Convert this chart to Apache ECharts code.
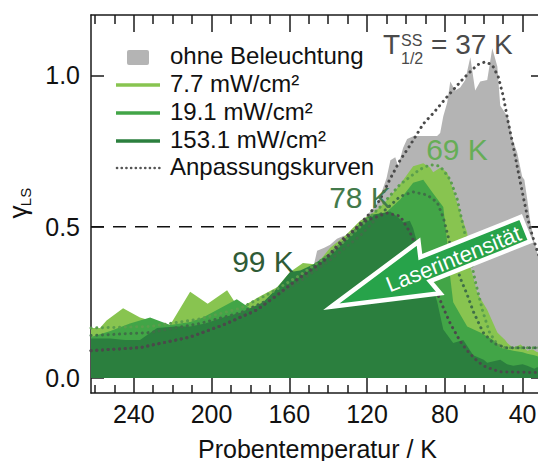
<!DOCTYPE html>
<html><head><meta charset="utf-8">
<script src="https://cdn.jsdelivr.net/npm/echarts@6/dist/echarts.min.js"></script>
<style>html,body{margin:0;padding:0;background:#fff}#c{width:538px;height:461px}</style>
</head><body><div id="c"></div>
<script>
// ---- data (temperature in K, gamma_LS) ----
const xMajorTicks = [240, 200, 160, 120, 80, 40];
const xMinorTicks = [260, 250, 230, 220, 210, 190, 180, 170, 150, 140, 130, 110, 100, 90, 70, 60, 50, 30];
const yTicks = [0, 0.5, 1.0];
const seriesNames = ['ohne Beleuchtung', '7.7 mW/cm²', '19.1 mW/cm²', '153.1 mW/cm²', 'Anpassungskurven'];
const halfTempLabels = ['69 K', '78 K', '99 K'];
const darkTitle = '37 K';

const greyData = [[262,0.11],[245,0.12],[230,0.13],[215,0.14],[200,0.16],[185,0.19],[172,0.23],[160,0.30],[152,0.34],
  [147.5,0.37],[145.7,0.42],[142,0.43],[139,0.44],[135.5,0.46],[132,0.47],[128.5,0.47],[125,0.50],[122,0.52],
  [118.4,0.55],[115.5,0.57],[113.3,0.60],[110,0.66],[108,0.72],[105.5,0.73],[104,0.70],[101.5,0.76],[99.4,0.79],
  [96,0.80],[92,0.80],[87.5,0.80],[84,0.80],[82.4,0.81],[80.8,0.865],[78.8,0.91],[77.2,0.98],[74.7,0.95],[72.1,0.96],
  [69.5,0.985],[66.9,1.06],[64.4,0.95],[61.8,0.98],[58.2,0.985],[55.6,1.09],[53,1.03],[51.5,0.90],[49.9,0.885],
  [47.4,0.86],[45.3,0.79],[42.8,0.745],[40.2,0.665],[39.1,0.655],[37.6,0.59],[36.1,0.52],[34,0.45],[31.9,0.40],[29,0.36]];
const lowData = [[262,0.165],[257.4,0.165],[254,0.19],[245.5,0.23],[236.8,0.20],[229,0.185],[221.3,0.175],[211,0.285],
  [202,0.245],[192,0.29],[188,0.25],[183,0.24],[175,0.27],[166.3,0.30],[159.6,0.35],[153,0.38],[146,0.375],[139,0.43],
  [131.3,0.47],[123.6,0.52],[117,0.545],[113.3,0.565],[108,0.60],[103,0.64],[96.3,0.70],[91.1,0.71],[87.5,0.695],
  [86,0.68],[82.4,0.695],[78.8,0.68],[75.7,0.62],[72.1,0.545],[68.5,0.48],[66.9,0.37],[63.3,0.28],[58.2,0.225],
  [53,0.15],[49,0.125],[47.9,0.115],[44.8,0.10],[41,0.11],[37.6,0.09],[35,0.095],[32.5,0.085],[29,0.09]];
const midData = [[262,0.135],[252,0.155],[242,0.18],[231.6,0.20],[221.3,0.175],[211,0.185],[204.4,0.20],[195.6,0.23],
  [187,0.26],[180.2,0.23],[170,0.25],[160,0.30],[150,0.34],[140,0.39],[130,0.44],[122,0.49],[114,0.52],[109.7,0.55],
  [103,0.59],[96.3,0.645],[91.1,0.655],[86,0.61],[80.8,0.565],[78.8,0.45],[77.2,0.33],[75.7,0.25],[72.1,0.21],
  [68.5,0.17],[61.8,0.15],[55.1,0.125],[51.5,0.10],[44.8,0.09],[40,0.085],[37.6,0.08],[34,0.075],[31.9,0.07],[29,0.07]];
const highData = [[262,0.13],[252.2,0.13],[244.5,0.125],[236.8,0.125],[228,0.165],[218.8,0.17],[211,0.17],[203.3,0.18],
  [194.1,0.20],[185.3,0.215],[180.2,0.23],[173.5,0.25],[167.3,0.29],[159.6,0.35],[154.4,0.355],[147.7,0.375],[142,0.40],
  [137.5,0.42],[131.3,0.46],[125.1,0.50],[120,0.53],[116.9,0.54],[112,0.545],[108.1,0.55],[104,0.53],[101.4,0.515],
  [98,0.52],[96.3,0.495],[94.2,0.445],[92.7,0.43],[87.5,0.33],[83.9,0.25],[80.8,0.16],[75.7,0.115],[70.5,0.125],
  [65.4,0.075],[60,0.06],[58.2,0.05],[51.5,0.06],[48,0.045],[44.8,0.04],[40,0.045],[37.6,0.04],[34,0.03],[32.5,0.035],[29,0.03]];

const greyFit = [[262,0.09],[236.8,0.10],[211,0.135],[194,0.175],[176.6,0.225],[166,0.275],[156,0.325],[142.6,0.385],
  [130.2,0.465],[118.4,0.545],[113.3,0.59],[108,0.66],[103,0.72],[97.8,0.77],[91.1,0.84],[86,0.875],[78.8,0.93],
  [70.5,0.99],[63.3,1.035],[59.2,1.045],[55.6,1.035],[52.5,0.995],[49.9,0.93],[47.4,0.845],[44.8,0.765],[42.2,0.68],
  [39.7,0.60],[37.1,0.52],[35,0.47],[32.5,0.42],[29,0.36]];
const lowFit = [[262,0.165],[231.6,0.17],[205.9,0.195],[185.3,0.23],[169.9,0.28],[154.4,0.34],[139,0.41],[123.6,0.50],
  [113.3,0.565],[103,0.64],[92.7,0.69],[87.5,0.705],[82.4,0.70],[77.2,0.655],[73.6,0.59],[70.5,0.50],[67,0.40],
  [64,0.31],[60.5,0.22],[57,0.15],[53,0.11],[49,0.10],[29,0.10]];
const midFit = [[262,0.14],[231.6,0.15],[205.9,0.18],[185.3,0.215],[169.9,0.26],[154.4,0.32],[139,0.39],[123.6,0.47],
  [113.3,0.54],[103,0.60],[96.3,0.615],[89.1,0.605],[83.9,0.58],[80.8,0.53],[77.2,0.44],[72.1,0.33],[68.5,0.275],
  [65.4,0.22],[60.3,0.15],[55.1,0.115],[49,0.10],[29,0.10]];
const highFit = [[262,0.09],[236.8,0.10],[211,0.135],[194,0.175],[176.6,0.225],[166,0.275],[156,0.325],[142.6,0.385],
  [132.3,0.46],[120.5,0.52],[109.7,0.545],[103,0.535],[97.8,0.48],[92.7,0.40],[88,0.33],[83.9,0.28],[80,0.22],
  [77.2,0.18],[72,0.12],[68.5,0.09],[64,0.06],[60.3,0.04],[55,0.027],[51.5,0.02],[29,0.017]];
const refLine = [[262,0.5],[29,0.5]];

// ---- styling ----
const FONT = '"Liberation Sans", Arial, sans-serif';
const AX = '#1a1a1a';
const C_GREY = '#b4b4b4', C_LOW = '#88c450', C_MID = '#42a547', C_HIGH = '#2b7f3e';
const FIT_DARK = '#4a4a4a', FIT_LOW = '#5a9e4c', FIT_MID = '#3f6f47';

const chart = echarts.init(document.getElementById('c'), null, {renderer: 'svg'});

const xBase = {type: 'value', min: 29, max: 262, inverse: true, gridIndex: 0, splitLine: {show: false}};
const lineSt = {color: AX, width: 1.5};
const yBase = {type: 'value', min: -0.05, max: 1.2, gridIndex: 0, splitLine: {show: false}};

function area(name, data, color, z) {
  return {name, type: 'line', data, symbol: 'none', showSymbol: false, silent: true, z,
    lineStyle: {width: 0, color}, itemStyle: {color}, areaStyle: {color, opacity: 1}};
}
function fit(name, data, color) {
  return {name, type: 'line', data, symbol: 'none', showSymbol: false, silent: true, z: 4,
    lineStyle: {color, width: 3, type: [0.1, 5.6], cap: 'round'}, itemStyle: {color}};
}

const ZT = 100;
const legendY = [55, 83, 111, 139, 166];
const graphic = [
  {type: 'rect', z: ZT, shape: {x: 127, y: 50, width: 22, height: 15, r: 2}, style: {fill: C_GREY}},
  {type: 'line', z: ZT, shape: {x1: 116, y1: 85, x2: 160, y2: 85}, style: {stroke: C_LOW, lineWidth: 3.5}},
  {type: 'line', z: ZT, shape: {x1: 116, y1: 113, x2: 160, y2: 113}, style: {stroke: C_MID, lineWidth: 3.5}},
  {type: 'line', z: ZT, shape: {x1: 116, y1: 141, x2: 160, y2: 141}, style: {stroke: C_HIGH, lineWidth: 3.5}},
  {type: 'line', z: ZT, shape: {x1: 117, y1: 168, x2: 160, y2: 168}, style: {stroke: '#555', lineWidth: 2.6, lineDash: [0.1, 4.6], lineCap: 'round'}},
];
seriesNames.forEach((n, i) => {
  graphic.push({type: 'text', x: 170, y: legendY[i], z: ZT,
    style: {text: n, fontSize: 24, fontFamily: FONT, fill: '#111', align: 'left', verticalAlign: 'middle'}});
});
// T_1/2^SS = 37 K
graphic.push(
  {type: 'text', x: 383, y: 44, z: ZT, style: {text: 'T', fontSize: 28, fontFamily: FONT, fill: '#4a4a4a', verticalAlign: 'middle'}},
  {type: 'text', x: 401, y: 40, z: ZT, style: {text: 'SS', fontSize: 16, fontFamily: FONT, fill: '#4a4a4a', verticalAlign: 'middle'}},
  {type: 'text', x: 401, y: 58, z: ZT, style: {text: '1/2', fontSize: 16, fontFamily: FONT, fill: '#4a4a4a', verticalAlign: 'middle'}},
  {type: 'text', x: 431, y: 44, z: ZT, style: {text: '= ' + darkTitle, fontSize: 28, fontFamily: FONT, fill: '#4a4a4a', verticalAlign: 'middle'}}
);
// half-temperature labels
const lblPos = [[457, 149, '#66ad57'], [360, 197, '#437a4b'], [263, 261, '#2f5b36']];
halfTempLabels.forEach((t, i) => {
  graphic.push({type: 'text', x: lblPos[i][0], y: lblPos[i][1], z: 50,
    style: {text: t, fontSize: 30, fontFamily: FONT, fill: lblPos[i][2], align: 'center', verticalAlign: 'middle'}});
});
// y axis title
graphic.push({type: 'group', x: 20, y: 207, rotation: Math.PI / 2, z: ZT, children: [
  {type: 'text', z: ZT, x: -5, y: -2, style: {text: 'γ', fontSize: 26, fontFamily: FONT, fill: '#111', align: 'center', verticalAlign: 'middle'}},
  {type: 'text', z: ZT, x: 10, y: 5, style: {text: 'LS', fontSize: 15, fontFamily: FONT, fill: '#111', align: 'center', verticalAlign: 'middle'}}
]});
// arrow
graphic.push({type: 'group', x: 323, y: 310, rotation: 0.3796, z: 200, children: [
  {type: 'polygon', z: 200, shape: {points: [[9, 0], [114, -28], [110, -13], [218, -13], [218, 13], [110, 13], [115, 28]]},
    style: {fill: '#27a34a', stroke: '#fff', lineWidth: 4.5, lineJoin: 'miter'}},
  {type: 'text', z: 201, x: 140, y: 1, style: {text: 'Laserintensität', fontSize: 22, fontFamily: FONT, fill: '#fff', align: 'center', verticalAlign: 'middle'}}
]});

chart.setOption({
  animation: false,
  backgroundColor: '#fff',
  grid: {left: 91, right: -6, top: 15, bottom: 68, containLabel: false, outerBoundsMode: 'none'},
  xAxis: [
    Object.assign({}, xBase, {position: 'bottom',
      axisLine: {show: true, onZero: false, lineStyle: lineSt},
      axisTick: {show: true, inside: true, length: 16, customValues: xMajorTicks, lineStyle: lineSt},
      axisLabel: {show: true, customValues: xMajorTicks, fontSize: 25, fontFamily: FONT, color: '#111', margin: 8},
      name: 'Probentemperatur / K', nameLocation: 'middle', nameGap: 43,
      nameTextStyle: {fontSize: 25, fontFamily: FONT, color: '#111'}}),
    Object.assign({}, xBase, {position: 'bottom',
      axisLine: {show: false, onZero: false},
      axisTick: {show: true, inside: true, length: 8, customValues: xMinorTicks, lineStyle: lineSt},
      axisLabel: {show: false}}),
    Object.assign({}, xBase, {position: 'top',
      axisLine: {show: true, onZero: false, lineStyle: lineSt},
      axisTick: {show: true, inside: true, length: 17, customValues: xMajorTicks, lineStyle: lineSt},
      axisLabel: {show: false}}),
    Object.assign({}, xBase, {position: 'top',
      axisLine: {show: false, onZero: false},
      axisTick: {show: true, inside: true, length: 9, customValues: xMinorTicks, lineStyle: lineSt},
      axisLabel: {show: false}})
  ],
  yAxis: [
    Object.assign({}, yBase, {position: 'left',
      axisLine: {show: true, onZero: false, lineStyle: lineSt},
      axisTick: {show: true, inside: true, length: 13, customValues: yTicks, lineStyle: lineSt},
      axisLabel: {show: true, customValues: yTicks, formatter: v => v.toFixed(1), fontSize: 25, fontFamily: FONT, color: '#111', margin: 11}}),
    Object.assign({}, yBase, {position: 'right',
      axisLine: {show: true, onZero: false, lineStyle: lineSt},
      axisTick: {show: true, inside: true, length: 13, customValues: yTicks, lineStyle: lineSt},
      axisLabel: {show: false}})
  ],
  series: [
    {name: 'ref', type: 'line', data: refLine, symbol: 'none', silent: true, z: 1,
      lineStyle: {color: '#111', width: 1.5, type: [13, 9]}},
    area(seriesNames[0], greyData, C_GREY, 2),
    area(seriesNames[1], lowData, C_LOW, 2),
    area(seriesNames[2], midData, C_MID, 2),
    area(seriesNames[3], highData, C_HIGH, 2),
    fit('fit grey', greyFit, FIT_DARK),
    fit('fit 7.7', lowFit, FIT_LOW),
    fit('fit 19.1', midFit, FIT_MID),
    fit('fit 153.1', highFit, FIT_DARK)
  ],
  graphic: graphic
});
</script>
</body></html>
